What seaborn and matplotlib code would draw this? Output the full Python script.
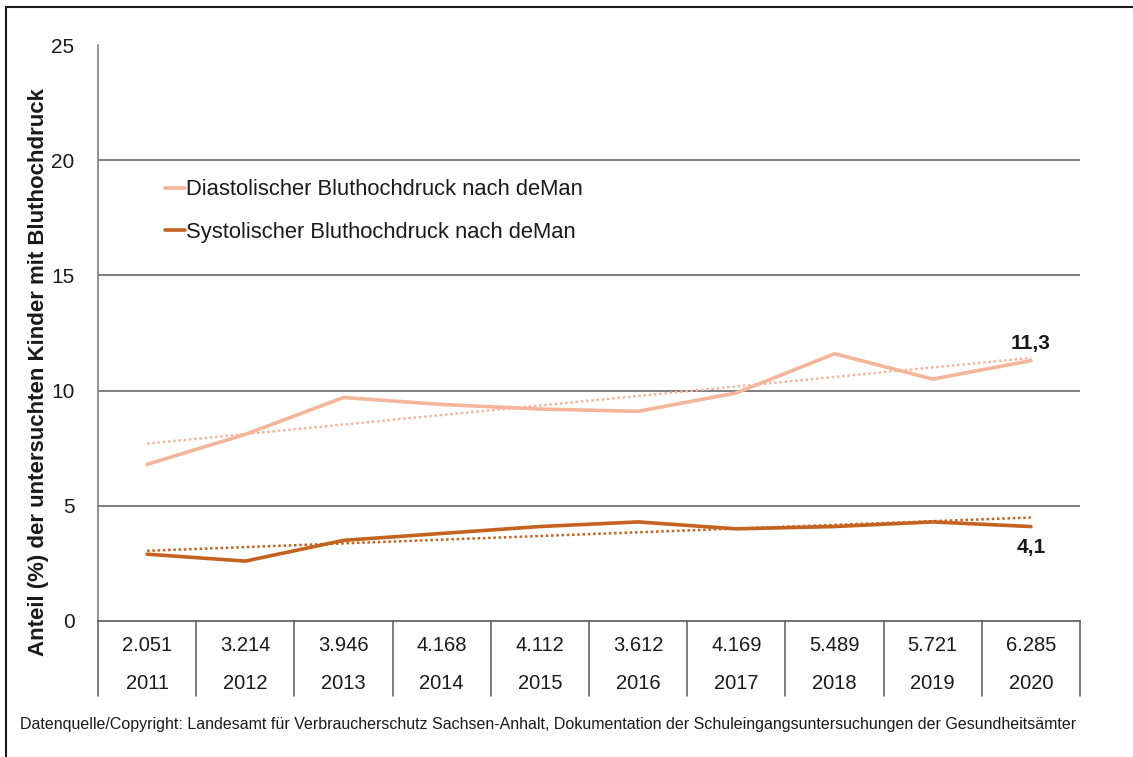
import numpy as np
import pandas as pd
import matplotlib
matplotlib.use("Agg")
import matplotlib.pyplot as plt
import matplotlib.transforms as mtransforms
from matplotlib.lines import Line2D
import seaborn as sns

# Data
years = ["2011", "2012", "2013", "2014", "2015", "2016", "2017", "2018", "2019", "2020"]
counts = ["2.051", "3.214", "3.946", "4.168", "4.112", "3.612", "4.169", "5.489", "5.721", "6.285"]
diastolic = [6.8, 8.1, 9.7, 9.4, 9.2, 9.1, 9.9, 11.6, 10.5, 11.3]
systolic = [2.9, 2.6, 3.5, 3.8, 4.1, 4.3, 4.0, 4.1, 4.3, 4.1]
series_names = ["Diastolischer Bluthochdruck nach deMan", "Systolischer Bluthochdruck nach deMan"]
end_labels = ["11,3", "4,1"]
colors = ["#F4B69A", "#C4621F"]

pos = np.arange(len(years))
df = pd.DataFrame({
    "pos": np.concatenate([pos, pos]),
    "wert": diastolic + systolic,
    "reihe": [series_names[0]] * len(years) + [series_names[1]] * len(years),
})

sns.set_theme(style="white")
plt.rcParams["font.family"] = ["Liberation Sans", "DejaVu Sans"]

fig = plt.figure(figsize=(11.33, 7.57), dpi=100)
ax = fig.add_axes([98 / 1133, 1 - 621 / 757, 982 / 1133, 576 / 757])

sns.lineplot(data=df, x="pos", y="wert", hue="reihe", palette=colors,
             linewidth=2.6, ax=ax, legend=False, sort=False)

# linear trend lines (dotted)
for vals, col in zip([diastolic, systolic], colors):
    m, b = np.polyfit(pos, vals, 1)
    ax.plot(pos, m * pos + b, color=col, linestyle=(0, (1, 1.1)), linewidth=1.8)

ax.set_xlim(-0.5, len(years) - 0.5)
ax.set_ylim(0, 25)
ax.set_yticks([0, 5, 10, 15, 20, 25])
ax.set_yticklabels(["0", "5", "10", "15", "20", "25"], fontsize=15, color="#1a1a1a")
ax.set_xticks([])
ax.set_xlabel("")
ax.set_ylabel("")
ax.tick_params(axis="y", length=0, pad=17)

for y in [5, 10, 15, 20]:
    ax.axhline(y, color="#5a5a5a", linewidth=1.1, zorder=0)

for s in ["top", "right"]:
    ax.spines[s].set_visible(False)
ax.spines["left"].set_color("#808080")
ax.spines["left"].set_linewidth(1.2)
ax.spines["bottom"].set_color("#595959")
ax.spines["bottom"].set_linewidth(1.2)

# end labels
ax.text(pos[-1], diastolic[-1] + 0.35, end_labels[0], ha="center", va="bottom",
        fontsize=15, fontweight="bold", color="#1a1a1a")
ax.text(pos[-1], systolic[-1] - 0.5, end_labels[1], ha="center", va="top",
        fontsize=15, fontweight="bold", color="#1a1a1a")

# data table below the axis
trans = mtransforms.blended_transform_factory(ax.transData, ax.transAxes)
for i in range(len(years)):
    ax.text(pos[i], -0.042, counts[i], transform=trans, ha="center", va="center",
            fontsize=14.5, color="#1a1a1a", clip_on=False)
    ax.text(pos[i], -0.109, years[i], transform=trans, ha="center", va="center",
            fontsize=14.5, color="#1a1a1a", clip_on=False)
for xb in np.arange(-0.5, len(years), 1.0):
    ax.add_line(Line2D([xb, xb], [0, -0.13], transform=trans, color="#595959",
                       linewidth=1.1, clip_on=False))

# legend
handles = [Line2D([0], [0], color=c, linewidth=2.6) for c in colors]
leg = ax.legend(handles, series_names, loc="upper left", bbox_to_anchor=(0.068, 0.767),
                frameon=False, fontsize=15.8, handlelength=0.9, handletextpad=0.05,
                labelspacing=1.0, borderpad=0, borderaxespad=0)
for t in leg.get_texts():
    t.set_color("#1a1a1a")

fig.text(39 / 1133, 1 - 372 / 757, "Anteil (%) der untersuchten Kinder mit Bluthochdruck",
         rotation=90, ha="center", va="center", fontsize=16, fontweight="bold",
         color="#1a1a1a")
fig.text(20 / 1133, 1 - 724 / 757,
         "Datenquelle/Copyright: Landesamt für Verbraucherschutz Sachsen-Anhalt, "
         "Dokumentation der Schuleingangsuntersuchungen der Gesundheitsämter",
         ha="left", va="center", fontsize=11.5, color="#1a1a1a")

# outer frame (top and left edges)
fig.add_artist(Line2D([6 / 1133, 1], [1 - 7 / 757, 1 - 7 / 757], transform=fig.transFigure,
                      color="#1a1a1a", linewidth=1.5))
fig.add_artist(Line2D([6 / 1133, 6 / 1133], [0, 1 - 7 / 757], transform=fig.transFigure,
                      color="#1a1a1a", linewidth=1.5))

fig.savefig("out.png", dpi=100, facecolor="white")
